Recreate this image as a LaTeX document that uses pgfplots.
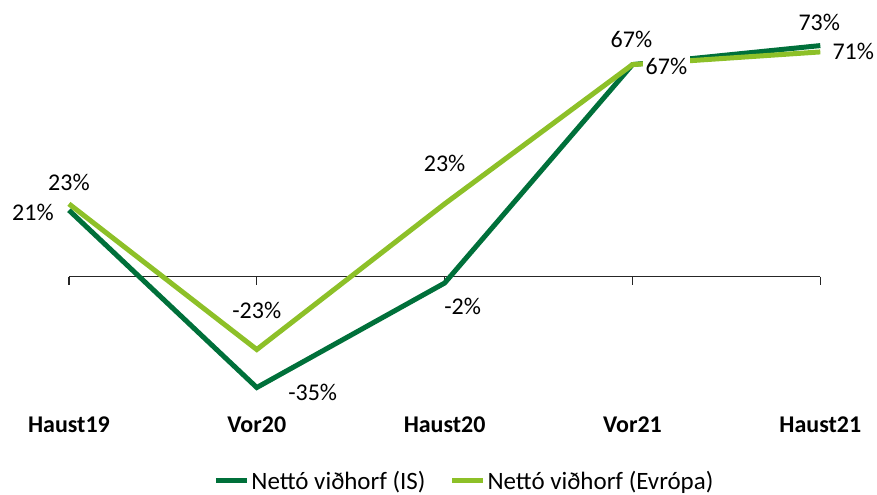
\documentclass[border=0pt]{standalone}
\usepackage{pgfplots}
\pgfplotsset{compat=1.18}
\usepackage{pgfplotstable}
\usepackage{fontspec}
\setmainfont{Carlito}
\definecolor{isgreen}{RGB}{0,112,58}
\definecolor{eugreen}{RGB}{141,192,40}

% x: 0 Haust19 ... 4 Haust21 ; dx/dy = label offset in pt
\pgfplotstableread{
x y lab dx dy
0 21 21 -36 -2
1 -35 -35 56 -5
2 -2 -2 18 -23
3 67 67 -1 25
4 73 73 -1 23
}\isdata
\pgfplotstableread{
x y lab dx dy
0 23 23 0 21
1 -23 -23 0 39
2 23 23 0 41
3 67 67 34 -2
4 71 71 33 0
}\eudata

\begin{document}
\begin{tikzpicture}
\begin{axis}[
    scale only axis, width=877pt, height=494pt,
    xmin=-0.367, xmax=4.298, ymin=-68.5, ymax=87.4,
    axis line style={draw=none}, tick style={draw=none},
    ytick=\empty, xtick={0,...,4},
    xticklabels={Haust19,Vor20,Haust20,Vor21,Haust21},
    xticklabel style={font=\fontsize{24}{28}\selectfont\bfseries, anchor=center, yshift=69pt},
    clip=false,
    nodes near coords={\pgfplotspointmeta\%},
    point meta=explicit symbolic,
    visualization depends on={\thisrow{dx}\as\dx},
    visualization depends on={\thisrow{dy}\as\dy},
    nodes near coords style={font=\fontsize{24}{28}\selectfont, text=black, anchor=center, xshift=\dx pt, yshift=\dy pt, fill=white, inner sep=3pt},
    legend style={at={(0.530,0.026)}, anchor=center, draw=none, fill=none, legend columns=2, font=\fontsize{25}{29}\selectfont, /tikz/every even column/.append style={column sep=22pt}},
    legend image code/.code={\draw[#1, line width=5pt] (0pt,0pt) -- (31pt,0pt);},
]
\path (rel axis cs:0,0) rectangle (rel axis cs:1,1);
\draw[black!85, line width=1.4pt] (axis cs:0,0) -- (axis cs:4,0);
\pgfplotsinvokeforeach{0,...,4}{\draw[black!85, line width=1.4pt] (axis cs:#1,0) -- ++(0pt,-8pt);}
\addplot[isgreen, line width=5pt, no marks] table[x=x, y=y, meta=lab] {\isdata};
\addplot[eugreen, line width=5pt, no marks] table[x=x, y=y, meta=lab] {\eudata};
\legend{Nettó viðhorf (IS), Nettó viðhorf (Evrópa)}
\end{axis}
\end{tikzpicture}
\end{document}
